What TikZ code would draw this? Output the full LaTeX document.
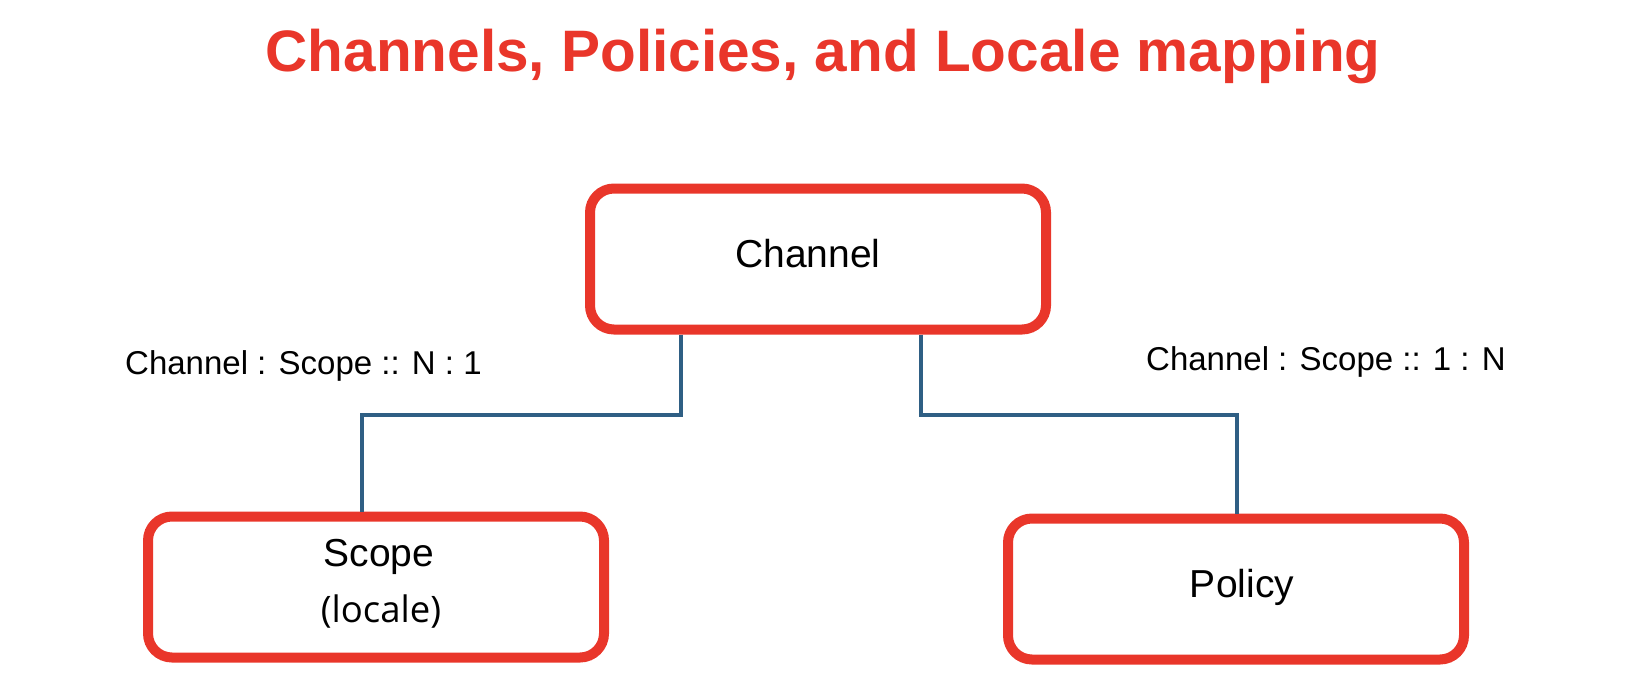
\documentclass[tikz,border=0pt]{standalone}
\usepackage{fontspec}
\setmainfont{Liberation Sans}
\newfontfamily\opensans{Open Sans}
\definecolor{redc}{HTML}{E9362A}
\definecolor{bluec}{HTML}{2F5F84}
\begin{document}
\begin{tikzpicture}[x=1pt,y=-1pt,
  box/.style={draw=redc,line width=10pt,rounded corners=24pt,minimum width=456pt,minimum height=141pt,inner sep=0pt},
  conn/.style={draw=bluec,line width=3.2pt},
  lbl/.style={font=\fontsize{33}{40}\selectfont,anchor=base west,inner sep=0pt},
  boxtxt/.style={font=\fontsize{39}{47}\selectfont,anchor=base,inner sep=0pt},
]
\useasboundingbox (0,0) rectangle (1642,688);
\node[font=\bfseries\fontsize{58.5}{70}\selectfont,text=redc,anchor=base,inner sep=0pt] (title) at (823,71) {Channels, Policies, and Locale mapping};

\node[box] (ch) at (818,259) {};
\node[box] (sc) at (376,587) {};
\node[box] (po) at (1236,589) {};

\node[boxtxt] (chT) at (808,267) {Channel};
\node[boxtxt] (scT) at (379,566) {Scope};
\node[boxtxt,font=\opensans\fontsize{36.5}{44}\selectfont] (scT2) at (381,622) {(locale)};
\node[boxtxt] (poT) at (1242,597) {Policy};

\node[lbl] (lblL) at (125,374) {Channel : Scope :: N : 1};
\node[lbl] (lblR) at (1146,370) {Channel : Scope :: 1 : N};

\coordinate (l1) at (681,415);
\coordinate (l2) at (362,415);
\coordinate (r1) at (921,415);
\coordinate (r2) at (1237,415);
\draw[conn] (ch.south -| l1) -- (l1) -- (l2) -- (sc.north -| l2);
\draw[conn] (ch.south -| r1) -- (r1) -- (r2) -- (po.north -| r2);
\end{tikzpicture}
\end{document}
